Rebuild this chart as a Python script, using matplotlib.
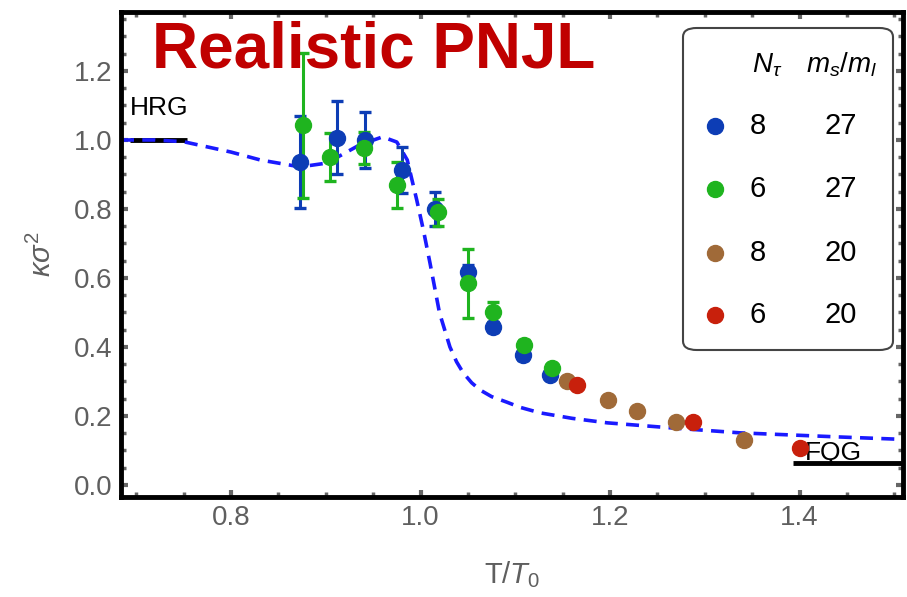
import matplotlib
matplotlib.use('Agg')
import matplotlib.pyplot as plt
from matplotlib.patches import FancyBboxPatch
from matplotlib.ticker import MultipleLocator

plt.rcParams['font.family'] = ['Liberation Sans', 'DejaVu Sans']
plt.rcParams['mathtext.fontset'] = 'custom'
plt.rcParams['mathtext.rm'] = 'Liberation Sans'
plt.rcParams['mathtext.it'] = 'Liberation Sans:italic'

# ── Data ──
# Realistic PNJL curve
curve_t = [0.684, 0.72, 0.75, 0.80, 0.831, 0.873, 0.901, 0.936, 0.960, 0.975,
           0.986, 0.991, 0.996, 1.003, 1.010, 1.020, 1.031, 1.038, 1.045, 1.054,
           1.063, 1.075, 1.091, 1.105, 1.126, 1.160, 1.197, 1.266, 1.337, 1.442, 1.509]
curve_k = [1.0, 1.0, 0.995, 0.965, 0.942, 0.922, 0.933, 0.986, 1.009, 0.994,
           0.942, 0.884, 0.826, 0.739, 0.643, 0.499, 0.40, 0.357, 0.325, 0.296,
           0.275, 0.256, 0.24, 0.225, 0.209, 0.193, 0.18, 0.165, 0.151, 0.139, 0.132]

# lattice: N_tau = 8, ms/ml = 27
blue_t = [0.873, 0.912, 0.941, 0.980, 1.015, 1.050, 1.076, 1.108, 1.137]
blue_k = [0.936, 1.006, 1.000, 0.913, 0.800, 0.617, 0.458, 0.377, 0.319]
blue_e = [0.133, 0.106, 0.080, 0.067, 0.048, 0.020, 0.015, 0.015, 0.012]

# N_tau = 6, ms/ml = 27
green_t = [0.876, 0.904, 0.940, 0.975, 1.018, 1.050, 1.076, 1.109, 1.139]
green_k = [1.043, 0.951, 0.977, 0.870, 0.790, 0.585, 0.501, 0.406, 0.340]
green_e = [0.210, 0.070, 0.046, 0.067, 0.040, 0.100, 0.030, 0.015, 0.012]

# N_tau = 8, ms/ml = 20
brown_t = [1.154, 1.198, 1.228, 1.270, 1.341]
brown_k = [0.302, 0.245, 0.214, 0.183, 0.130]
brown_e = [0.010, 0.008, 0.008, 0.008, 0.008]

# N_tau = 6, ms/ml = 20
red_t = [1.165, 1.287, 1.400]
red_k = [0.291, 0.183, 0.107]
red_e = [0.010, 0.010, 0.008]

# limits
hrg_t = [0.693, 0.754]
hrg_k = [1.0, 1.0]
fqg_t = [1.393, 1.509]
fqg_k = [0.064, 0.064]

legend_rows = [('8', '27'), ('6', '27'), ('8', '20'), ('6', '20')]

BLUE = '#0d3db5'
GREEN = '#1fb41f'
BROWN = '#a06a38'
RED = '#c8200c'
GRAY = '#5f5f5f'

W, H = 907, 597
fig = plt.figure(figsize=(W / 100, H / 100), dpi=100)
L, R, T, B = 121, 903, 12, 497
ax = fig.add_axes([L / W, 1 - B / H, (R - L) / W, (B - T) / H])


def fpos(x, y):
    # pixel position -> figure fraction
    return x / W, 1 - y / H


ax.plot(curve_t, curve_k, color='#1a1aff', lw=2.6, dashes=(3.6, 2.3), zorder=2)

for t, k, e, c in [(blue_t, blue_k, blue_e, BLUE), (green_t, green_k, green_e, GREEN),
                   (brown_t, brown_k, brown_e, BROWN), (red_t, red_k, red_e, RED)]:
    ax.errorbar(t, k, yerr=e, fmt='o', color=c, ms=11.5, mec=c, elinewidth=2.2,
                capsize=4.5, capthick=2.4, zorder=3)

ax.plot(hrg_t, hrg_k, color='black', lw=3.5, zorder=1, solid_capstyle='butt')
ax.plot(fqg_t, fqg_k, color='black', lw=3.5, zorder=1, solid_capstyle='butt')
ax.text(0.693, 1.072, 'HRG', fontsize=19, color='black', ha='left', va='baseline')
ax.text(1.405, 0.072, 'FQG', fontsize=19, color='black', ha='left', va='baseline')

ax.set_xlim(0.684, 1.509)
ax.set_ylim(-0.035, 1.371)
ax.xaxis.set_major_locator(MultipleLocator(0.2))
ax.xaxis.set_minor_locator(MultipleLocator(0.05))
ax.yaxis.set_major_locator(MultipleLocator(0.2))
ax.yaxis.set_minor_locator(MultipleLocator(0.05))
ax.xaxis.set_major_formatter(plt.FuncFormatter(lambda v, p: f'{v:.1f}'))
ax.yaxis.set_major_formatter(plt.FuncFormatter(lambda v, p: f'{v:.1f}'))

for s in ax.spines.values():
    s.set_linewidth(3.5)
    s.set_color('black')
ax.tick_params(which='both', direction='in', top=True, right=True, color='#666666',
               labelcolor=GRAY, labelsize=20)
ax.tick_params(which='major', length=5, width=3, pad=6)
ax.tick_params(which='minor', length=3.5, width=2.5)

ax.set_xlabel('T/$T_0$', fontsize=21, color=GRAY, labelpad=20)
ax.set_ylabel(r'$\kappa\sigma^2$', fontsize=21, color=GRAY, labelpad=12)

# title
x, y = fpos(152, 68)
fig.text(x, y, 'Realistic PNJL', fontsize=46, fontweight='bold', color='#c00000',
         ha='left', va='baseline')

# legend box
bx0, by0 = fpos(683, 350)
bx1, by1 = fpos(893, 28)
box = FancyBboxPatch((bx0, by0), bx1 - bx0, by1 - by0, transform=fig.transFigure,
                     boxstyle='round,pad=0,rounding_size=0.015', fc='white',
                     ec='#444444', lw=1.5, zorder=5)
fig.patches.append(box)

x, y = fpos(767, 65)
fig.text(x, y, r'$N_\tau$', fontsize=20, ha='center', va='center', zorder=6)
x, y = fpos(842, 65)
fig.text(x, y, r'$m_s/m_l$', fontsize=20, ha='center', va='center', zorder=6)
row_y = [126, 189, 253, 315]
for (nt, ratio), c, ry in zip(legend_rows, [BLUE, GREEN, BROWN, RED], row_y):
    x, y = fpos(715, ry)
    fig.lines.append(plt.Line2D([x], [y], marker='o', ms=11.5, color=c,
                                transform=fig.transFigure, zorder=6))
    x, y = fpos(758, ry)
    fig.text(x, y, nt, fontsize=21, ha='center', va='center', zorder=6)
    x, y = fpos(841, ry)
    fig.text(x, y, ratio, fontsize=21, ha='center', va='center', zorder=6)

plt.savefig('out.png', dpi=100)
plt.close()
